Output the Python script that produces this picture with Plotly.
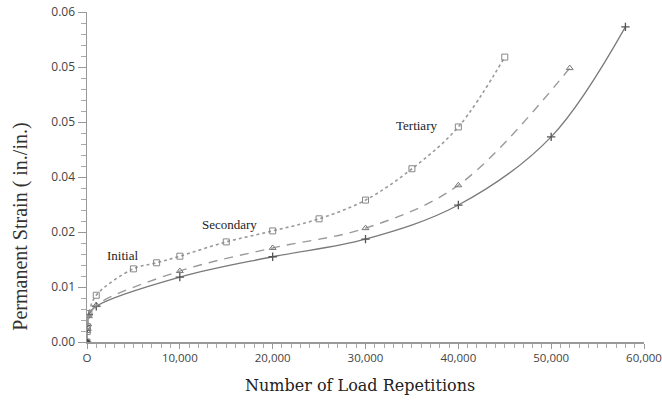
import plotly.graph_objects as go

# ---- data ----
sq_x = [0, 20, 50, 200, 1000, 5000, 7500, 10000, 15000, 20000, 25000, 30000, 35000, 40000, 45000]
sq_y = [0, 0.0019, 0.0028, 0.0052, 0.0085, 0.0133, 0.0144, 0.0156, 0.0182, 0.0202, 0.0224, 0.0258, 0.0315, 0.0391, 0.0518]

tr_x = [0, 20, 50, 200, 1000, 10000, 20000, 30000, 40000, 52000]
tr_y = [0, 0.0020, 0.0026, 0.0047, 0.0067, 0.0129, 0.0171, 0.0207, 0.0285, 0.0498]

pl_x = [0, 20, 50, 200, 1000, 10000, 20000, 30000, 40000, 50000, 58000]
pl_y = [0, 0.0021, 0.0030, 0.0050, 0.0065, 0.0118, 0.0155, 0.0187, 0.0249, 0.0373, 0.0573]

x_tickvals = [0, 10000, 20000, 30000, 40000, 50000, 60000]
x_ticktext = ["O", "10,000", "20,000", "30,000", "40,000", "50,000", "60,000"]
y_tickvals = [0, 0.01, 0.02, 0.03, 0.04, 0.05, 0.06]
y_ticktext = ["0.00", "0.01", "0.02", "0.04", "0.05", "0.05", "0.06"]

phase_labels = ["Initial", "Secondary", "Tertiary"]
phase_x = [3800, 15300, 35500]
phase_y = [0.0157, 0.0213, 0.0394]

fig = go.Figure()

fig.add_trace(go.Scatter(
    x=pl_x, y=pl_y, mode="lines+markers", line_shape="spline",
    line=dict(color="#7a7a7a", width=1.3),
    marker=dict(symbol="cross-thin", size=6, line=dict(color="#555", width=1.3)),
    showlegend=False, hoverinfo="skip"))
fig.add_trace(go.Scatter(
    x=tr_x, y=tr_y, mode="lines+markers", line_shape="spline",
    line=dict(color="#9a9a9a", width=1.4, dash="9px,7px"),
    marker=dict(symbol="triangle-up-open", size=6, color="#777", line=dict(width=1)),
    showlegend=False, hoverinfo="skip"))
fig.add_trace(go.Scatter(
    x=sq_x, y=sq_y, mode="lines+markers", line_shape="spline",
    line=dict(color="#9a9a9a", width=1.6, dash="dot"),
    marker=dict(symbol="square-open", size=6, color="#888", line=dict(width=1)),
    showlegend=False, hoverinfo="skip"))
# origin marker
fig.add_trace(go.Scatter(x=[0], y=[0], mode="markers",
    marker=dict(symbol="circle", size=6, color="#444"), showlegend=False, hoverinfo="skip"))

for t, xx, yy in zip(phase_labels, phase_x, phase_y):
    fig.add_annotation(x=xx, y=yy, text=t, showarrow=False,
                       font=dict(family="Liberation Serif", size=13, color="#222"))

fig.add_annotation(xref="paper", yref="paper", x=0.49, y=-0.133, text="Number of Load Repetitions",
                   showarrow=False, xanchor="center", yanchor="middle",
                   font=dict(family="DejaVu Serif", size=16, color="#222"))
fig.add_annotation(xref="paper", yref="paper", x=-0.12, y=0.35, text="Permanent Strain ( in./in.)",
                   showarrow=False, xanchor="center", yanchor="middle", textangle=-90,
                   font=dict(family="Liberation Serif", size=20, color="#333"))

fig.update_xaxes(range=[0, 60000], tickmode="array", tickvals=x_tickvals, ticktext=x_ticktext,
                 automargin=False, ticklabeloverflow="allow",
                 showgrid=False, zeroline=False, showline=True, linecolor="#999", linewidth=1.5,
                 ticks="outside", ticklen=5, tickcolor="#999",
                 minor=dict(dtick=1000, tick0=0, ticks="outside", ticklen=4, tickcolor="#aaa", showgrid=False),
                 tickfont=dict(family="Open Sans", size=11.5, color="#444"))
fig.update_yaxes(range=[0, 0.06], tickmode="array", tickvals=y_tickvals, ticktext=y_ticktext,
                 automargin=False,
                 showgrid=False, zeroline=False, showline=True, linecolor="#999", linewidth=1.5,
                 ticks="outside", ticklen=8, tickcolor="#999",
                 minor=dict(dtick=0.002, tick0=0, ticks="outside", ticklen=5, tickcolor="#aaa", showgrid=False),
                 tickfont=dict(family="Open Sans", size=12, color="#444"))

fig.update_layout(width=662, height=401, margin=dict(l=87, r=18, t=12, b=59),
                  plot_bgcolor="white", paper_bgcolor="white", hovermode=False)

fig.write_html("out.html", config={"displayModeBar": False, "staticPlot": True},
               post_script="document.body.style.margin='0';document.body.style.overflow='hidden';")
